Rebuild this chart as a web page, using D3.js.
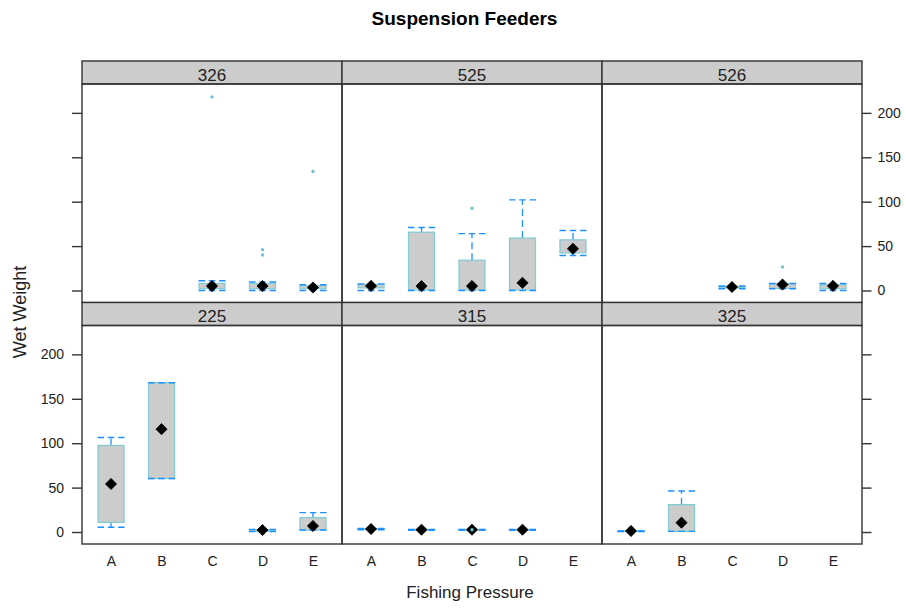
<!DOCTYPE html>
<html>
<head>
<meta charset="utf-8">
<script src="https://cdn.jsdelivr.net/npm/d3@7"></script>
<style>
  body { margin: 0; background: #fff; }
  svg { font-family: "Liberation Sans", Arial, sans-serif; }
</style>
</head>
<body>
<svg id="chart" width="906" height="610"></svg>
<script>
var pressures = ["A", "B", "C", "D", "E"];
// panel order: top row left to right, then bottom row
var sites = ["326", "525", "526", "225", "315", "325"];
var yTicks = [0, 50, 100, 150, 200];

// one row per site, one column per pressure, null = no samples
var lowWhisker = [
  [null, null, 0, 0, 0],
  [0, 0, 0, 0, 39.4],
  [null, null, 2, 1.9, 0],
  [5.3, 60.2, null, 0.5, 2.3],
  [2.5, 2, 2, 2, null],
  [0.5, 0.75, null, null, null]
];
var lowerQuartile = [
  [null, null, 2, 2, 2],
  [3, 0.8, 0.8, 0.8, 42.4],
  [null, null, 3, 2.5, 2],
  [10.9, 60.2, null, 0.8, 2.3],
  [3, 2.4, 2.4, 2.4, null],
  [0.8, 0.75, null, null, null]
];
var medians = [
  [null, null, 5, 5, 3.4],
  [5.2, 5, 5, 8.6, 47],
  [null, null, 4, 6.8, 5.2],
  [54.1, 115.8, null, 2.2, 6.8],
  [3.4, 2.6, 2.6, 2.6, null],
  [1.2, 10.5, null, null, null]
];
var upperQuartile = [
  [null, null, 8, 8, 5.5],
  [6.8, 65.6, 34, 59, 57],
  [null, null, 4.5, 7.5, 6.5],
  [97.4, 168, null, 2.5, 16.2],
  [3.6, 2.8, 2.8, 2.8, null],
  [1.2, 30.8, null, null, null]
];
var highWhisker = [
  [null, null, 11, 9.5, 6.4],
  [7.5, 71, 64, 102, 67.5],
  [null, null, 5, 7.9, 7.9],
  [106.4, 168, null, 3, 21.8],
  [4, 3, 3, 3, null],
  [1.2, 46.2, null, null, null]
];
var outliers = [
  ["326", "C", 218], ["326", "D", 46], ["326", "D", 40], ["326", "E", 134],
  ["525", "C", 92.6], ["526", "D", 26.6], ["315", "C", 2.6]
];

var plotLeft = 82, plotTop = 61, panelW = 260, stripH = 23, panelH = 218.5;
var boxW = 26, capW = 27;
var frameCol = "#333", boxFill = "#cccccc", boxLine = "#85cbd3",
    whiskerCol = "#1e90ff", outlierCol = "#6fc4cf";

var svg = d3.select("#chart");

var x = d3.scalePoint().domain(pressures).range([0, panelW]).padding(0.575);

var yFor = function(row) {
  var pTop = plotTop + row * (stripH + panelH) + stripH;
  return d3.scaleLinear().domain([-13.5, 232.5]).range([pTop + panelH, pTop]);
};

// title and axis titles
svg.append("text").attr("x", 464.5).attr("y", 25).attr("text-anchor", "middle")
  .style("font-size", "19px").style("font-weight", "bold").text("Suspension Feeders");
svg.append("text").attr("x", 470).attr("y", 598).attr("text-anchor", "middle")
  .style("font-size", "17px").attr("fill", "#222").text("Fishing Pressure");
svg.append("text").attr("transform", "translate(26,312) rotate(-90)").attr("text-anchor", "middle")
  .style("font-size", "18px").attr("fill", "#222").text("Wet Weight");

sites.forEach(function(site, i) {
  var col = i % 3, row = Math.floor(i / 3);
  var x0 = plotLeft + col * panelW;
  var stripTop = plotTop + row * (stripH + panelH);
  var y = yFor(row);
  var g = svg.append("g").attr("transform", "translate(" + x0 + ",0)");

  // strip
  g.append("rect").attr("x", 0).attr("y", stripTop).attr("width", panelW).attr("height", stripH)
    .attr("fill", "#cccccc").attr("stroke", frameCol).attr("stroke-width", 1.4);
  g.append("text").attr("x", panelW / 2).attr("y", stripTop + 19.5).attr("text-anchor", "middle")
    .style("font-size", "17px").attr("fill", "#222").text(site);

  var boxes = pressures.map(function(p, j) {
    return { p: p, lo: lowWhisker[i][j], q1: lowerQuartile[i][j], med: medians[i][j],
             q3: upperQuartile[i][j], hi: highWhisker[i][j] };
  }).filter(function(d) { return d.med != null; });

  // whiskers
  g.selectAll(".wu").data(boxes).enter().append("line")
    .attr("x1", function(d) { return x(d.p); }).attr("x2", function(d) { return x(d.p); })
    .attr("y1", function(d) { return y(d.q3); }).attr("y2", function(d) { return y(d.hi); })
    .attr("stroke", whiskerCol).attr("stroke-width", 1.3).attr("stroke-dasharray", "7,4");
  g.selectAll(".wl").data(boxes).enter().append("line")
    .attr("x1", function(d) { return x(d.p); }).attr("x2", function(d) { return x(d.p); })
    .attr("y1", function(d) { return y(d.q1); }).attr("y2", function(d) { return y(d.lo); })
    .attr("stroke", whiskerCol).attr("stroke-width", 1.3).attr("stroke-dasharray", "7,4");

  // boxes
  g.selectAll(".box").data(boxes).enter().append("rect")
    .attr("x", function(d) { return x(d.p) - boxW / 2; }).attr("width", boxW)
    .attr("y", function(d) { return y(d.q3); })
    .attr("height", function(d) { return Math.max(y(d.q1) - y(d.q3), 0.5); })
    .attr("fill", boxFill).attr("stroke", boxLine).attr("stroke-width", 1.3);

  // caps
  ["lo", "hi"].forEach(function(k) {
    g.selectAll(".cap-" + k).data(boxes).enter().append("line")
      .attr("x1", function(d) { return x(d.p) - capW / 2; }).attr("x2", function(d) { return x(d.p) + capW / 2; })
      .attr("y1", function(d) { return y(d[k]); }).attr("y2", function(d) { return y(d[k]); })
      .attr("stroke", whiskerCol).attr("stroke-width", 1.4).attr("stroke-dasharray", "6.5,3.8");
  });

  // medians
  g.selectAll(".med").data(boxes).enter().append("path")
    .attr("d", d3.symbol(d3.symbolSquare, 62))
    .attr("transform", function(d) { return "translate(" + x(d.p) + "," + y(d.med) + ") rotate(45)"; })
    .attr("fill", "#000").attr("stroke", "#000").attr("stroke-width", 0.8).attr("stroke-linejoin", "round");

  // outliers
  g.selectAll(".out").data(outliers.filter(function(o) { return o[0] === site; })).enter().append("circle")
    .attr("cx", function(o) { return x(o[1]); }).attr("cy", function(o) { return y(o[2]); })
    .attr("r", 1.7).attr("fill", outlierCol);

  // panel frame
  g.append("rect").attr("x", 0).attr("y", stripTop + stripH).attr("width", panelW).attr("height", panelH)
    .attr("fill", "none").attr("stroke", frameCol).attr("stroke-width", 1.4);

  // y axes on outer columns; labels alternate sides between rows
  if (col === 0) {
    var la = g.append("g").call(d3.axisLeft(y).tickValues(yTicks).tickSize(10).tickPadding(8)
      .tickFormat(row === 1 ? d3.format("d") : function() { return ""; }));
    la.select(".domain").remove();
  }
  if (col === 2) {
    var ra = g.append("g").attr("transform", "translate(" + panelW + ",0)")
      .call(d3.axisRight(y).tickValues(yTicks).tickSize(9.5).tickPadding(6)
      .tickFormat(row === 0 ? d3.format("d") : function() { return ""; }));
    ra.select(".domain").remove();
  }
  if (row === 1) {
    var xa = g.append("g").attr("transform", "translate(0," + (stripTop + stripH + panelH) + ")")
      .call(d3.axisBottom(x).tickSize(0).tickPadding(12));
    xa.select(".domain").remove();
  }
});

svg.selectAll(".tick line").attr("stroke", frameCol).attr("stroke-width", 1.4);
svg.selectAll(".tick text").style("font-size", "14px").attr("fill", "#222")
  .style("font-family", "'Liberation Sans', Arial, sans-serif");
</script>
</body>
</html>
